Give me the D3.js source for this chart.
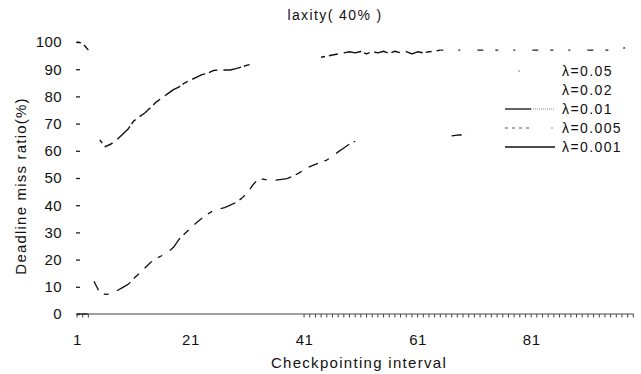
<!DOCTYPE html>
<html>
<head>
<meta charset="utf-8">
<script src="https://cdn.jsdelivr.net/npm/d3@7"></script>
<style>
  body { margin: 0; background: #fff; }
  svg text { font-family: "Liberation Sans", Arial, sans-serif; fill: #111; }
</style>
</head>
<body>
<svg id="chart" width="641" height="374"></svg>
<script>
// data
const titleText = "laxity( 40% )";
const xTicks = [1, 21, 41, 61, 81];
const yTicks = [0, 10, 20, 30, 40, 50, 60, 70, 80, 90, 100];
const legendLabels = ["λ=0.05", "λ=0.02", "λ=0.01", "λ=0.005", "λ=0.001"];

// λ=0.05 (top curve), null = lost in the scan
const topX = [1, 2, 3, 4, 5, 6, 7, 8, 9, 10, 11, 12, 13, 14, 15, 16, 17, 18, 19, 20, 21, 22, 23, 24, 25, 26, 27, 28, 29, 30, 31, 32, 38, 44, 46, 48, 49, 50, 51, 52, 53, 54, 55, 56, 57, 58, 59, 60, 61, 62, 63, 64, 65, 70, 75, 80, 85, 90, 95, 98, 100];
const topY = [100, 99.5, 97, null, 64, 61.5, 62.5, 64, 66, 68, 71, 72.5, 74, 76, 78, 79.5, 81, 82.5, 83.5, 85, 86, 87, 88, 88.5, 89.5, 89.7, 89.7, 89.7, 90.2, 90.8, 91.5, 92, null, 94.4, 95.2, 96, 96.4, 96, 96.5, 95.6, 96.5, 96, 96.6, 95.8, 96.6, 96, 96.5, 95.6, 96.4, 96, 96.4, 96.6, 97, 97, 97, 97, 97, 97, 97, 98, 99];

// λ=0.02 (middle curve)
const midX = [4, 5, 6, 7, 8, 9, 10, 11, 12, 13, 14, 15, 16, 17, 18, 19, 20, 21, 22, 23, 24, 25, 26, 27, 28, 29, 30, 31, 32, 33, 34, 35, 36, 37, 38, 39, 40, 41, 42, 43, 44, 45, 46, 47, 48, 49, 50, 60, 67, 68, 69, 70];
const midY = [12, 7.8, 7.2, 7.4, 8.5, 9.7, 10.9, 13, 15, 17, 19, 20.5, 21.5, 22.8, 24.5, 27.5, 29.6, 31.5, 33.5, 35.2, 36.7, 38, 38.6, 39.1, 40, 41, 42.5, 44.5, 47.5, 49.8, 49.5, 49, 49.2, 49.5, 49.8, 50.6, 51.7, 53, 54.2, 55, 55.8, 56.6, 58, 59.6, 61, 62.5, 63.5, null, 65.5, 65.8, 65.8, 65.6];

// λ=0.01 (bottom, with tick marks)
const lowX = [1, 2, 3, 41, 42, 43, 44, 45, 46, 47, 48, 49, 50, 51, 52, 53, 54, 55, 56, 57, 58, 59, 60, 61, 62, 63, 64, 65, 66, 67, 68, 69, 70, 71, 72, 73, 74, 75, 76, 77, 78, 79, 80, 81, 82, 83, 84, 85, 86, 87, 88, 89, 90, 91, 92, 93, 94, 95, 96, 97, 98, 99];
const lowY = [0, 0, 0, 0, 0, 0, 0, 0, 0, 0, 0, 0, 0, 0, 0, 0, 0, 0, 0, 0, 0, 0, 0, 0, 0, 0, 0, 0, 0, 0, 0, 0, 0, 0, 0, 0, 0, 0, 0, 0, 0, 0, 0, 0, 0, 0, 0, 0, 0, 0, 0, 0, 0, 0, 0, 0, 0, 0, 0, 0, 0, 0];

// λ=0.005 and λ=0.001 sit on zero under the others
const zeroX = [1, 2, 3];
const zeroY005 = [0, 0, 0];
const zeroY001 = [0, 0, 0];

const svg = d3.select("#chart");
const x = d3.scaleLinear().domain([1, 100]).range([77, 639]);
const y = d3.scaleLinear().domain([0, 100]).range([314, 42]);

const toPoints = (xs, ys) => xs.map((v, i) => ({ x: v, y: ys[i] }));
const line = d3.line()
  .defined(d => d.y != null)
  .x(d => x(d.x))
  .y(d => y(d.y));

const topPts = toPoints(topX, topY);
const series = [
  // the top curve fades out in the scan after x=65, so it gets a sparser stroke there
  { pts: topPts.filter(d => d.x <= 65), stroke: "#111", width: 1.4, dash: "14,4,9,6,18,3,6,5", offset: 10 },
  { pts: topPts.filter(d => d.x >= 65), stroke: "#222", width: 1.3, dash: "3,15,2,17,6,12" },
  { pts: toPoints(midX, midY), stroke: "#111", width: 1.3, dash: "10,7,5,9,16,5,7,8" },
  { pts: toPoints(lowX, lowY), stroke: "#444", width: 1, dash: null, ticks: true },
  { pts: toPoints(zeroX, zeroY005), stroke: "#555", width: 1, dash: "3,3" },
  { pts: toPoints(zeroX, zeroY001), stroke: "#222", width: 1.2, dash: null },
];

const font = "Liberation Sans, Arial, sans-serif";

// title
svg.append("text")
  .attr("x", 335).attr("y", 20)
  .attr("text-anchor", "middle")
  .style("font-size", "14px")
  .style("letter-spacing", "1.4px")
  .text(titleText);

// y axis
const yAxis = svg.append("g")
  .attr("transform", "translate(80,0)")
  .call(d3.axisLeft(y).tickValues(yTicks).tickSize(4).tickPadding(14));
yAxis.select(".domain").remove();
yAxis.selectAll("line").attr("stroke", "#222").attr("stroke-width", 1.3);
yAxis.selectAll("text").style("font-size", "15px").style("font-family", font)
  .style("letter-spacing", "0.4px").attr("fill", "#111");

// x axis
const xAxis = svg.append("g")
  .attr("transform", "translate(0,314)")
  .call(d3.axisBottom(x).tickValues(xTicks).tickSize(0).tickPadding(20).tickFormat(d3.format("d")));
xAxis.select(".domain").remove();
xAxis.selectAll("text").style("font-size", "15px").style("font-family", font)
  .style("letter-spacing", "0.6px").attr("fill", "#111");

// axis titles
svg.append("text")
  .attr("x", 359).attr("y", 368)
  .attr("text-anchor", "middle")
  .style("font-size", "15px")
  .style("letter-spacing", "1.3px")
  .text("Checkpointing interval");

svg.append("text")
  .attr("transform", "translate(26,186) rotate(-90)")
  .attr("text-anchor", "middle")
  .style("font-size", "15px")
  .style("letter-spacing", "1.2px")
  .text("Deadline miss ratio(%)");

// lines
series.forEach(s => {
  svg.append("path")
    .datum(s.pts)
    .attr("fill", "none")
    .attr("stroke", s.stroke)
    .attr("stroke-width", s.width)
    .attr("stroke-dasharray", s.dash)
    .attr("stroke-dashoffset", s.offset || 0)
    .attr("stroke-linejoin", "round")
    .attr("d", line);
  if (s.ticks) {
    svg.append("g").selectAll("line")
      .data(s.pts)
      .join("line")
      .attr("x1", d => x(d.x)).attr("x2", d => x(d.x))
      .attr("y1", d => y(d.y)).attr("y2", d => y(d.y) + 3.5)
      .attr("stroke", "#444")
      .attr("stroke-width", 1);
  }
});

// legend
const legend = svg.append("g").attr("transform", "translate(0,71)");
const rowH = 19;
const lx0 = 505, lx1 = 555;
legendLabels.forEach((lab, i) => {
  legend.append("text")
    .attr("x", 562).attr("y", i * rowH)
    .attr("dy", "0.35em")
    .style("font-size", "14px")
    .style("letter-spacing", "1.4px")
    .text(lab);
});
// sample marks, as they survive in the scan
legend.append("circle").attr("cx", 519).attr("cy", 0).attr("r", 0.8).attr("fill", "#777");
legend.append("line").attr("x1", lx0).attr("x2", 531).attr("y1", 2 * rowH).attr("y2", 2 * rowH)
  .attr("stroke", "#111").attr("stroke-width", 1.3);
legend.append("line").attr("x1", 531).attr("x2", lx1).attr("y1", 2 * rowH).attr("y2", 2 * rowH)
  .attr("stroke", "#888").attr("stroke-width", 1).attr("stroke-dasharray", "1,1");
legend.append("line").attr("x1", lx0).attr("x2", 532).attr("y1", 3 * rowH).attr("y2", 3 * rowH)
  .attr("stroke", "#555").attr("stroke-width", 1).attr("stroke-dasharray", "3,4");
legend.append("circle").attr("cx", 552).attr("cy", 3 * rowH).attr("r", 0.8).attr("fill", "#777");
legend.append("line").attr("x1", lx0).attr("x2", lx1).attr("y1", 4 * rowH).attr("y2", 4 * rowH)
  .attr("stroke", "#111").attr("stroke-width", 1.3);
</script>
</body>
</html>
